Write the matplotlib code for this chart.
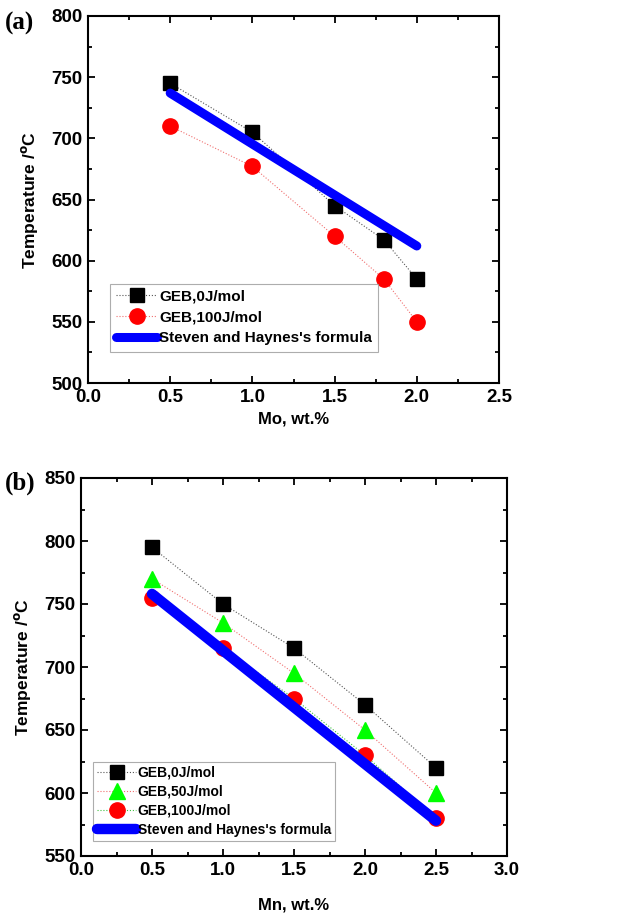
import numpy as np
import matplotlib
matplotlib.use('Agg')
import matplotlib.pyplot as plt
from matplotlib.ticker import MultipleLocator

plt.rcParams['font.family'] = ['Liberation Sans', 'DejaVu Sans']
plt.rcParams['font.weight'] = 'bold'
plt.rcParams['mathtext.default'] = 'bf'

# panel (a): Mo
mo_x = [0.5, 1.0, 1.5, 1.8, 2.0]
mo_geb0 = [745, 705, 645, 617, 585]
mo_geb100 = [710, 677, 620, 585, 550]
mo_sh_x = [0.5, 2.0]
mo_sh_y = [737, 612]

# panel (b): Mn
mn_x = [0.5, 1.0, 1.5, 2.0, 2.5]
mn_geb0 = [795, 750, 715, 670, 620]
mn_geb50 = [770, 735, 695, 650, 600]
mn_geb100 = [755, 715, 675, 630, 580]
mn_sh_x = [0.5, 2.5]
mn_sh_y = [758, 578]

fig = plt.figure(figsize=(6.35, 9.18), dpi=100)
W, H = 635, 918
ax_a = fig.add_axes([88 / W, 1 - 383 / H, 411 / W, 367 / H])
ax_b = fig.add_axes([81 / W, 1 - 856 / H, 426 / W, 378 / H])


def style(ax, xlim, ylim, xlabel, xpad):
    ax.set_xlim(*xlim)
    ax.set_ylim(*ylim)
    ax.xaxis.set_major_locator(MultipleLocator(0.5))
    ax.xaxis.set_minor_locator(MultipleLocator(0.25))
    ax.yaxis.set_major_locator(MultipleLocator(50))
    ax.yaxis.set_minor_locator(MultipleLocator(25))
    ax.tick_params(which='both', direction='in', top=True, right=True, width=1.3)
    ax.tick_params(which='major', length=5, labelsize=13.5, pad=4)
    ax.tick_params(which='minor', length=3)
    for s in ax.spines.values():
        s.set_linewidth(1.5)
    ax.set_xlabel(xlabel, fontsize=12, fontweight='bold', labelpad=xpad)
    ax.set_ylabel(r'Temperature /$^{o}$C', fontsize=12.5, fontweight='bold', labelpad=8)


ax_a.plot(mo_x, mo_geb0, ls=':', lw=0.8, color='#555555', marker='s', ms=10,
          mfc='black', mec='black', label='GEB,0J/mol')
ax_a.plot(mo_x, mo_geb100, ls=':', lw=0.8, color='#f07070', marker='o', ms=11,
          mfc='red', mec='red', label='GEB,100J/mol')
ax_a.plot(mo_sh_x, mo_sh_y, color='blue', lw=6.5, solid_capstyle='round',
          label="Steven and Haynes's formula")
style(ax_a, (0, 2.5), (500, 800), 'Mo, wt.%', 4)
leg = ax_a.legend(loc='lower left', bbox_to_anchor=(0.035, 0.065), fontsize=11,
                  fancybox=False, edgecolor='#999999', handlelength=2.7,
                  handletextpad=0.1, borderpad=0.4, labelspacing=0.45)
leg.get_frame().set_linewidth(0.8)

ax_b.plot(mn_x, mn_geb0, ls=':', lw=0.8, color='#555555', marker='s', ms=10,
          mfc='black', mec='black', label='GEB,0J/mol')
ax_b.plot(mn_x, mn_geb50, ls=':', lw=0.8, color='#f07070', marker='^', ms=12,
          mfc='#00ff00', mec='#00ff00', label='GEB,50J/mol')
ax_b.plot(mn_x, mn_geb100, ls=':', lw=0.8, color='#40c040', marker='o', ms=11,
          mfc='red', mec='red', label='GEB,100J/mol')
ax_b.plot(mn_sh_x, mn_sh_y, color='blue', lw=7.5, solid_capstyle='round',
          label="Steven and Haynes's formula")
style(ax_b, (0, 3.0), (550, 850), 'Mn, wt.%', 14)
leg = ax_b.legend(loc='lower left', bbox_to_anchor=(0.012, 0.022), fontsize=10,
                  fancybox=False, edgecolor='#999999', handlelength=2.8,
                  handletextpad=0.1, borderpad=0.3, labelspacing=0.35)
leg.get_frame().set_linewidth(0.8)

fig.text(5 / W, 1 - 30 / H, '(a)', family=['Liberation Serif', 'DejaVu Serif'],
         fontsize=18, fontweight='bold')
fig.text(5 / W, 1 - 490 / H, '(b)', family=['Liberation Serif', 'DejaVu Serif'],
         fontsize=18, fontweight='bold')

fig.savefig('out.png', dpi=100)
